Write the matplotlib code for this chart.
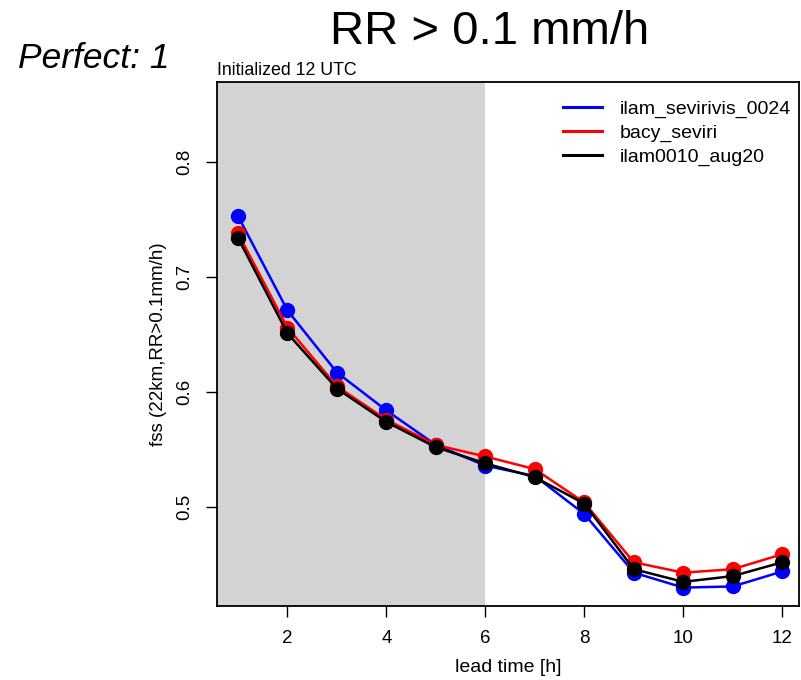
import matplotlib.pyplot as plt
from matplotlib.lines import Line2D
import numpy as np

plt.rcParams['font.family'] = ['Liberation Sans', 'DejaVu Sans']

lead_time = np.arange(1, 13)
ilam_sevirivis_0024 = [0.753, 0.671, 0.617, 0.584, 0.554, 0.536, 0.527, 0.494, 0.443, 0.430, 0.431, 0.444]
bacy_seviri = [0.738, 0.656, 0.605, 0.576, 0.554, 0.544, 0.533, 0.504, 0.452, 0.443, 0.446, 0.459]
ilam0010_aug20 = [0.734, 0.651, 0.603, 0.574, 0.552, 0.538, 0.526, 0.503, 0.446, 0.435, 0.440, 0.452]

series = [("ilam_sevirivis_0024", ilam_sevirivis_0024, "#0000FF"),
          ("bacy_seviri", bacy_seviri, "#FF0000"),
          ("ilam0010_aug20", ilam0010_aug20, "#000000")]

fig = plt.figure(figsize=(8.01, 6.80), dpi=100)
ax = fig.add_axes([217/801, 1-606/680, 582/801, 524/680])

ax.axvspan(0, 6, color="#D3D3D3", lw=0, zorder=0)
handles = []
for name, vals, col in series:
    ax.plot(lead_time, vals, "o-", color=col, lw=1.8, ms=10)
    handles.append(Line2D([], [], color=col, lw=2.2, label=name))

ax.set_xlim(0.575, 12.34)
ax.set_ylim(0.414, 0.8696)
ax.set_xticks([2, 4, 6, 8, 10, 12])
ax.set_yticks([0.5, 0.6, 0.7, 0.8])
ax.tick_params(direction="out", length=8, width=1, labelsize=13.5, pad=9)
for lab in ax.get_yticklabels():
    lab.set_rotation(90)
    lab.set_va("center")
for s in ax.spines.values():
    s.set_linewidth(1.3)

ax.set_xlabel("lead time [h]", fontsize=14, labelpad=9)
ax.set_ylabel("fss (22km,RR>0.1mm/h)", fontsize=13.5, labelpad=7)
ax.text(0.0, 1.005, "Initialized 12 UTC", transform=ax.transAxes, fontsize=12.8, va="bottom", ha="left")

ax.legend(handles=handles, loc="upper right", bbox_to_anchor=(1.016, 0.998), frameon=False,
          fontsize=14, handlelength=2.0, labelspacing=0.3, handletextpad=0.9)

fig.text(490/801, 1-32/680, "RR > 0.1 mm/h", fontsize=34, ha="center", va="center")
fig.text(18/801, 1-58/680, "Perfect: 1", fontsize=25.5, style="italic", ha="left", va="center")

plt.savefig("out.png")
